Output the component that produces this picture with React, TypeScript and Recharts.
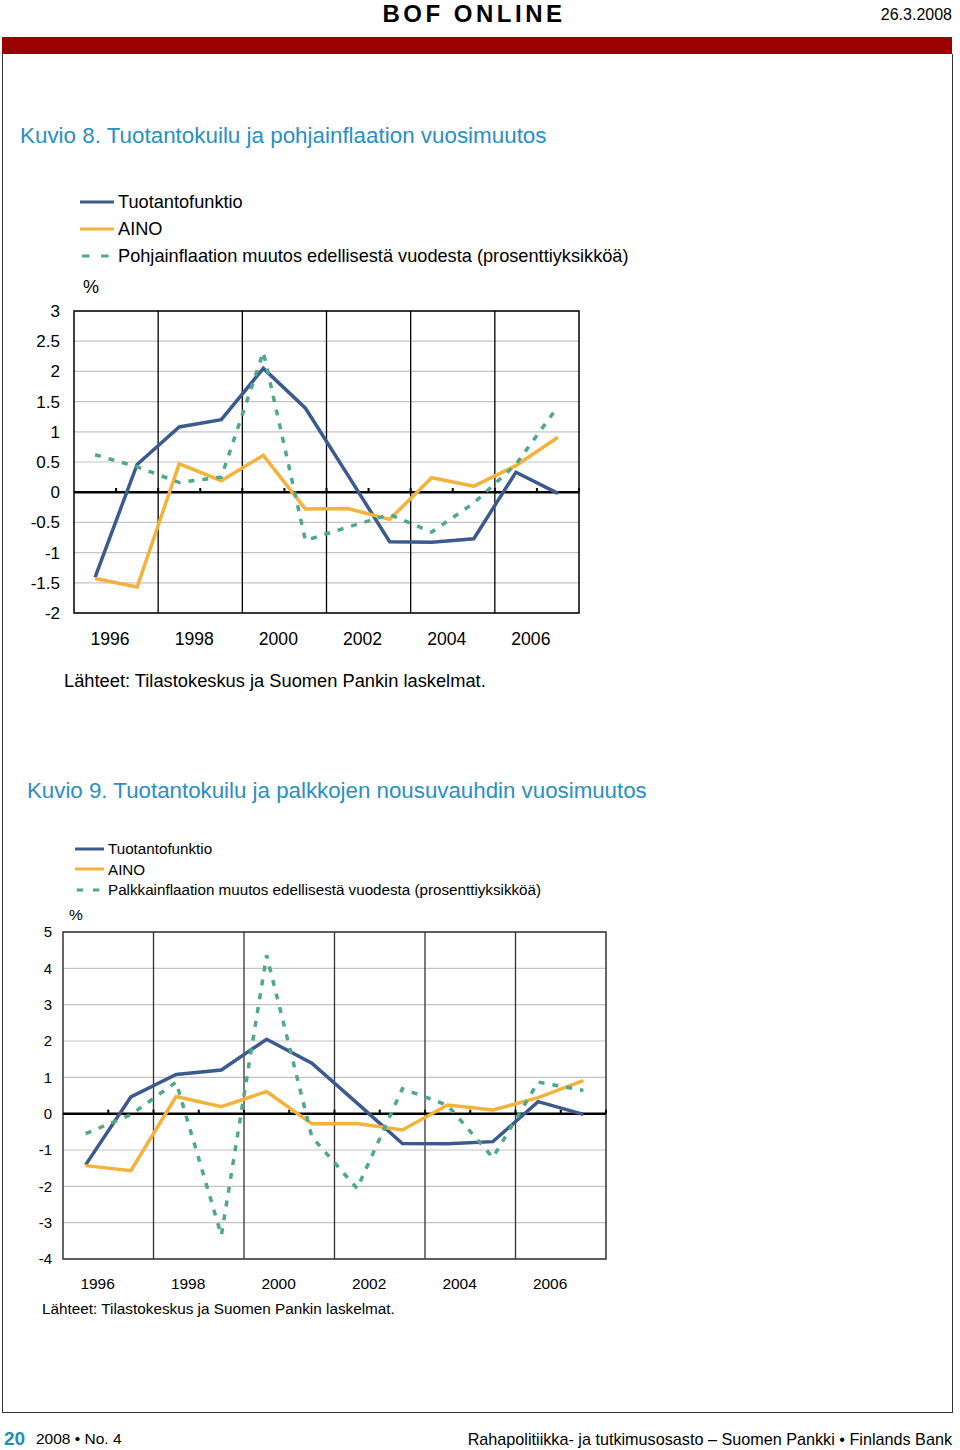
import React from 'react';
import { LineChart, Line, XAxis, YAxis, CartesianGrid, ReferenceLine, ReferenceArea } from 'recharts';

// annual observations, one point per year
const years = [1996, 1997, 1998, 1999, 2000, 2001, 2002, 2003, 2004, 2005, 2006, 2007];
const xLabelYears = [1996, 1998, 2000, 2002, 2004, 2006];

// output gap estimates (same in both figures)
const gapProduction = [-1.41, 0.46, 1.08, 1.2, 2.05, 1.39, 0.29, -0.82, -0.83, -0.77, 0.33, -0.02];
const gapAino = [-1.43, -1.57, 0.47, 0.19, 0.61, -0.28, -0.27, -0.45, 0.24, 0.1, 0.44, 0.91];

// change from previous year, percentage points
const coreInflationChange = [0.62, 0.42, 0.16, 0.25, 2.32, -0.8, -0.58, -0.37, -0.66, -0.18, 0.46, 1.42];
const wageInflationChange = [-0.55, -0.03, 0.87, -3.35, 4.36, -0.64, -2.06, 0.69, 0.23, -1.21, 0.87, 0.64];

const yTicks8 = [-2, -1.5, -1, -0.5, 0, 0.5, 1, 1.5, 2, 2.5, 3];
const yTicks9 = [-4, -3, -2, -1, 0, 1, 2, 3, 4, 5];

const BLUE = '#3c5a8e';
const ORANGE = '#f3b23a';
const GREEN = '#4da98a';
const TITLE = '#2a8fc3';
const FONT = '"Liberation Sans", Arial, sans-serif';

const data8 = years.map((y, i) => ({ year: y, prod: gapProduction[i], aino: gapAino[i], infl: coreInflationChange[i] }));
const data9 = years.map((y, i) => ({ year: y, prod: gapProduction[i], aino: gapAino[i], infl: wageInflationChange[i] }));

const dividers = [1997.5, 1999.5, 2001.5, 2003.5, 2005.5];
const minorTicks = [1996.5, 1997.5, 1998.5, 1999.5, 2000.5, 2001.5, 2002.5, 2003.5, 2004.5, 2005.5, 2006.5, 2007.5];

function Legend({ left, top, gap, size, swatch, items }: any) {
  return (
    <div style={{ position: 'absolute', left, top }}>
      {items.map((it: any, i: number) => (
        <div key={it.label} style={{ position: 'absolute', left: 0, top: i * gap, height: size, display: 'flex', alignItems: 'center', whiteSpace: 'nowrap' }}>
          <svg width={swatch + 4} height={8}>
            <line x1={0} x2={swatch} y1={4} y2={4} stroke={it.color} strokeWidth={3}
              strokeDasharray={it.dashed ? `${swatch * 0.22} ${swatch * 0.34}` : undefined}
              strokeDashoffset={it.dashed ? -swatch * 0.06 : 0} />
          </svg>
          <span style={{ fontSize: size, lineHeight: `${size}px`, color: '#000' }}>{it.label}</span>
        </div>
      ))}
    </div>
  );
}

function Figure({ data, top, width, height, margin, yWidth, yDomain, yTicks, fontSize, xFontSize, tickGap, labelDx, labelGap, tickLen, frame }: any) {
  const XTick = (p: any) => (
    <text x={p.x + labelDx} y={p.y} dy="0.71em" textAnchor="middle" fontSize={xFontSize} fontFamily={FONT} fill="#000">
      {p.payload.value}
    </text>
  );
  return (
    <div style={{ position: 'absolute', left: 0, top }}>
      <LineChart width={width} height={height} data={data} margin={margin}>
        <CartesianGrid vertical={false} stroke="#c4c4c4" strokeWidth={1.2} />
        <XAxis dataKey="year" type="number" domain={[1995.5, 2007.5]} ticks={xLabelYears}
          axisLine={false} tickLine={false} tickSize={0} tickMargin={labelGap} tick={XTick} height={40} />
        <YAxis type="number" domain={yDomain} ticks={yTicks} interval={0} width={yWidth}
          axisLine={false} tickLine={false} tickSize={0} tickMargin={tickGap}
          tick={{ fill: '#000', fontSize, fontFamily: FONT }} />
        {dividers.map((d) => (
          <ReferenceLine key={d} x={d} stroke={frame} strokeWidth={1.3} />
        ))}
        <ReferenceArea x1={1995.5} x2={2007.5} y1={yDomain[0]} y2={yDomain[1]} fill="none" fillOpacity={0} stroke={frame} strokeWidth={1.5} />
        <ReferenceLine y={0} stroke="#000" strokeWidth={2.5} />
        {minorTicks.map((d) => (
          <ReferenceLine key={'t' + d} segment={[{ x: d, y: 0 }, { x: d, y: tickLen }]} stroke="#000" strokeWidth={2} />
        ))}
        <Line type="linear" dataKey="prod" stroke={BLUE} strokeWidth={3.5} dot={false} isAnimationActive={false} />
        <Line type="linear" dataKey="aino" stroke={ORANGE} strokeWidth={3.5} dot={false} isAnimationActive={false} />
        <Line type="linear" dataKey="infl" stroke={GREEN} strokeWidth={3.5} strokeDasharray="6 8" dot={false} isAnimationActive={false} />
      </LineChart>
    </div>
  );
}

function Txt({ left, top, size, children, style }: any) {
  return (
    <div style={{ position: 'absolute', left, top: top - size / 2, fontSize: size, lineHeight: `${size}px`, whiteSpace: 'nowrap', ...style }}>
      {children}
    </div>
  );
}

export default function App() {
  return (
    <div style={{ position: 'absolute', left: 0, top: 0, width: 960, height: 1450, background: '#fff', fontFamily: FONT, color: '#000', overflow: 'hidden' }}>
      {/* header */}
      <div style={{ position: 'absolute', left: 0, width: 948, top: 1, textAlign: 'center', fontSize: 24, lineHeight: '26px', fontWeight: 'bold', letterSpacing: 3.5 }}>
        BOF ONLINE
      </div>
      <div style={{ position: 'absolute', right: 8, top: 7, fontSize: 16, lineHeight: '16px' }}>26.3.2008</div>
      <div style={{ position: 'absolute', left: 2, top: 37, width: 950, height: 17, background: '#990000' }} />
      <div style={{ position: 'absolute', left: 2, top: 54, width: 949, height: 1358, border: '1px solid #333', borderTop: 'none' }} />

      {/* Kuvio 8 */}
      <Txt left={20} top={136} size={22.4} style={{ color: TITLE }}>Kuvio 8. Tuotantokuilu ja pohjainflaation vuosimuutos</Txt>
      <Legend left={80} top={193} gap={27} size={18.2} swatch={34}
        items={[
          { label: 'Tuotantofunktio', color: BLUE },
          { label: 'AINO', color: ORANGE },
          { label: 'Pohjainflaation muutos edellisestä vuodesta (prosenttiyksikköä)', color: GREEN, dashed: true },
        ]} />
      <Txt left={83} top={287} size={18}>%</Txt>
      <Figure data={data8} top={290} width={600} height={370}
        margin={{ top: 21, right: 21, bottom: 7, left: 0 }} yWidth={74}
        yDomain={[-2, 3]} yTicks={yTicks8} fontSize={17} xFontSize={17.6} tickGap={14}
        labelDx={15} labelGap={20} tickLen={0.07} frame="#000" />
      <Txt left={64} top={681} size={18.3}>Lähteet: Tilastokeskus ja Suomen Pankin laskelmat.</Txt>

      {/* Kuvio 9 */}
      <Txt left={27} top={791} size={22.3} style={{ color: TITLE }}>Kuvio 9. Tuotantokuilu ja palkkojen nousuvauhdin vuosimuutos</Txt>
      <Legend left={75} top={841} gap={20.7} size={15.2} swatch={29}
        items={[
          { label: 'Tuotantofunktio', color: BLUE },
          { label: 'AINO', color: ORANGE },
          { label: 'Palkkainflaation muutos edellisestä vuodesta (prosenttiyksikköä)', color: GREEN, dashed: true },
        ]} />
      <Txt left={69} top={915} size={15.5}>%</Txt>
      <Figure data={data9} top={910} width={630} height={394}
        margin={{ top: 22, right: 24, bottom: 5, left: 0 }} yWidth={63}
        yDomain={[-4, 5]} yTicks={yTicks9} fontSize={15} xFontSize={15.5} tickGap={11}
        labelDx={12} labelGap={19} tickLen={0.11} frame="#333" />
      <Txt left={42} top={1309} size={15.3}>Lähteet: Tilastokeskus ja Suomen Pankin laskelmat.</Txt>

      {/* footer */}
      <Txt left={4} top={1438} size={19} style={{ color: '#1d8fb3', fontWeight: 'bold' }}>20</Txt>
      <Txt left={36} top={1439} size={15.5}>2008 • No. 4</Txt>
      <div style={{ position: 'absolute', right: 8, top: 1431, fontSize: 16.2, lineHeight: '17px', whiteSpace: 'nowrap' }}>
        Rahapolitiikka- ja tutkimusosasto – Suomen Pankki • Finlands Bank
      </div>
    </div>
  );
}
